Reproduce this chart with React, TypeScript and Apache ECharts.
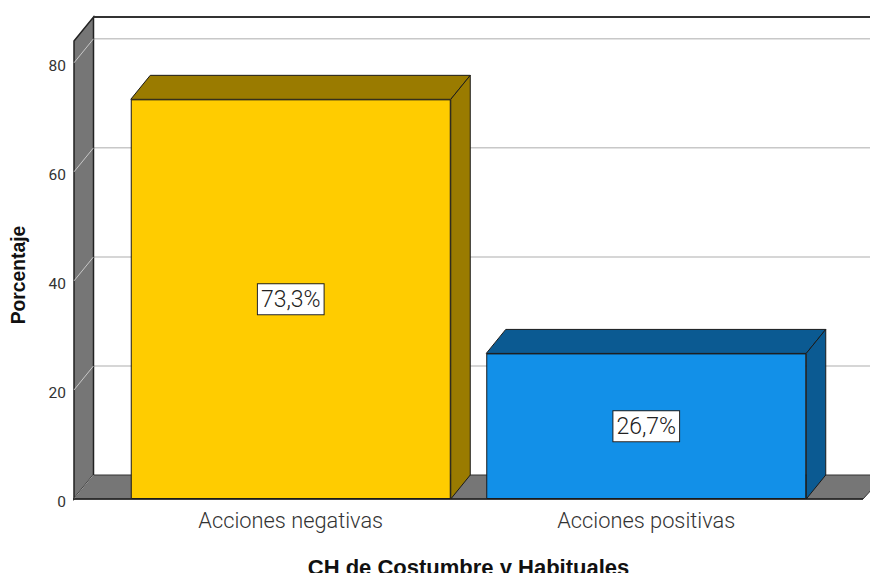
import React, { useEffect, useRef } from "react";
import * as echarts from "echarts";

const categories = ["Acciones negativas", "Acciones positivas"];
const percentages = [73.3, 26.7];
const yTicks = [0, 20, 40, 60, 80];
const xTitle = "CH de Costumbre y Habituales";
const yTitle = "Porcentaje";

const frontColors = ["#FFCC00", "#1290E8"];
const sideColors = ["#9A7B00", "#0B5A92"];
const WALL = "#767676";
const EDGE = "#222222";
const GRID_LINE = "#C8C8C8";
const DX = 19.5;
const DY = -24;
const BAR_W = 320;

const wallsItem = (params: any, api: any) => {
  const cs = params.coordSys;
  const bottom = cs.y + cs.height;
  const top = cs.y;
  const left = 74;
  const right = 863;
  const pageRight = 875;
  const children: any[] = [];
  const lineStyle = { stroke: GRID_LINE, lineWidth: 1.5 };
  yTicks.forEach((t) => {
    if (t === 0) return;
    const y = api.coord([0, t])[1];
    children.push({ type: "line", shape: { x1: left + DX, y1: y + DY, x2: pageRight, y2: y + DY }, style: lineStyle });
  });
  children.push({
    type: "polygon",
    shape: { points: [[left, top], [left + DX, top + DY], [left + DX, bottom + DY], [left, bottom]] },
    style: { fill: WALL, stroke: EDGE, lineWidth: 1.5 },
  });
  yTicks.forEach((t) => {
    if (t === 0) return;
    const y = api.coord([0, t])[1];
    children.push({ type: "line", shape: { x1: left, y1: y, x2: left + DX, y2: y + DY }, style: { stroke: GRID_LINE, lineWidth: 1 } });
  });
  children.push({
    type: "polygon",
    shape: { points: [[left, bottom], [left + DX, bottom + DY], [pageRight + 10, bottom + DY], [right, bottom]] },
    style: { fill: WALL, stroke: "#333333", lineWidth: 1 },
  });
  children.push({ type: "line", shape: { x1: left, y1: bottom, x2: left + DX, y2: bottom + DY }, style: { stroke: "#9A9A9A", lineWidth: 1 } });
  children.push({ type: "line", shape: { x1: left + DX, y1: top + DY, x2: pageRight, y2: top + DY }, style: { stroke: "#333333", lineWidth: 2 } });
  children.push({ type: "line", shape: { x1: left - 1, y1: bottom, x2: right, y2: bottom }, style: { stroke: EDGE, lineWidth: 1.5 } });
  return { type: "group", children };
};

const facesItem = (params: any, api: any) => {
  const i = api.value(0);
  const [cx, yTop] = api.coord([i, api.value(1)]);
  const yBottom = api.coord([i, 0])[1];
  const x1 = cx - BAR_W / 2;
  const x2 = cx + BAR_W / 2;
  const style = { fill: sideColors[i], stroke: "#1A1A1A", lineWidth: 1 };
  return {
    type: "group",
    children: [
      { type: "polygon", shape: { points: [[x1, yTop], [x1 + DX, yTop + DY], [x2 + DX, yTop + DY], [x2, yTop]] }, style },
      { type: "polygon", shape: { points: [[x2, yTop], [x2 + DX, yTop + DY], [x2 + DX, yBottom + DY], [x2, yBottom]] }, style },
    ],
  };
};

export default function App() {
  const ref = useRef<HTMLDivElement>(null);
  useEffect(() => {
    const chart = echarts.init(ref.current!, undefined, { renderer: "svg" });
    chart.setOption({
      animation: false,
      backgroundColor: "#FFFFFF",
      grid: { left: 113, top: 41, width: 711, height: 458, outerBoundsMode: "none" },
      xAxis: {
        type: "category",
        data: categories,
        axisLine: { show: false },
        axisTick: { show: false },
        axisLabel: { fontFamily: "Roboto", fontWeight: 300, fontSize: 21.8, color: "#333333", margin: 10 },
        name: xTitle,
        nameLocation: "middle",
        nameGap: 57,
        nameTextStyle: { fontFamily: "Liberation Sans", fontWeight: "bold", fontSize: 22, color: "#111111" },
      },
      yAxis: {
        type: "value",
        min: 0,
        max: 84,
        interval: 20,
        offset: 39,
        axisLine: { show: false },
        axisTick: { show: false },
        splitLine: { show: false },
        axisLabel: { fontFamily: "Roboto", fontSize: 15.5, color: "#333333", margin: 8, showMaxLabel: false, verticalAlign: "top", lineHeight: 6 },
        name: yTitle,
        nameLocation: "middle",
        nameGap: 46,
        nameTextStyle: { fontFamily: "Liberation Sans", fontWeight: "bold", fontSize: 19.3, color: "#111111", padding: [0, 10, 0, 0] },
      },
      series: [
        { type: "custom", z: 1, silent: true, clip: false, renderItem: wallsItem, data: [[0, 0]], encode: { x: 0, y: 1 } },
        {
          type: "custom",
          z: 2,
          silent: true,
          clip: false,
          renderItem: facesItem,
          data: percentages.map((v, i) => [i, v]),
          encode: { x: 0, y: 1 },
        },
        {
          type: "bar",
          z: 3,
          barWidth: BAR_W,
          data: percentages.map((v, i) => ({ value: v, itemStyle: { color: frontColors[i], borderColor: "#1A1A1A", borderWidth: 1 } })),
          label: {
            show: true,
            position: "inside",
            formatter: (p: any) => `${String(p.value).replace(".", ",")}%`,
            fontFamily: "Roboto",
            fontWeight: 300,
            fontSize: 23,
            color: "#222222",
            backgroundColor: "#FFFFFF",
            borderColor: "#222222",
            borderWidth: 1,
            padding: [4, 3, 3, 3],
          },
        },
      ],
    });
    return () => chart.dispose();
  }, []);
  return <div ref={ref} style={{ position: "fixed", left: 0, top: 0, width: 870, height: 573 }} />;
}
